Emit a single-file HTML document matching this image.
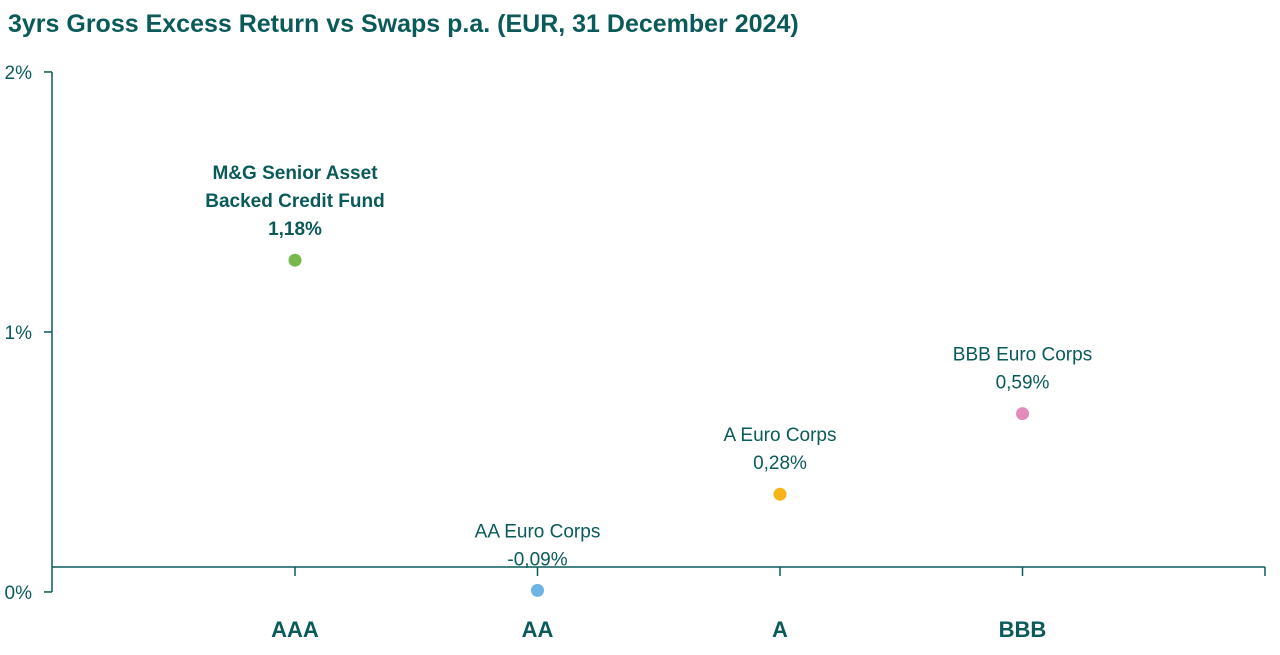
<!DOCTYPE html>
<html><head><meta charset="utf-8"><style>
body{margin:0;background:#fff;width:1280px;height:650px;overflow:hidden;font-family:"Liberation Sans",sans-serif}
</style></head><body>
<svg width="1280" height="650" xmlns="http://www.w3.org/2000/svg" id="c">
<text x="8" y="32" font-size="25" font-weight="bold" fill="#0b5a5a">3yrs Gross Excess Return vs Swaps p.a. (EUR, 31 December 2024)</text>
</svg>
<script>
const categories=["AAA","AA","A","BBB"];
const values=[1.18,-0.09,0.28,0.59];
const names=[["M&G Senior Asset","Backed Credit Fund"],["AA Euro Corps"],["A Euro Corps"],["BBB Euro Corps"]];
const valueLabels=["1,18%","-0,09%","0,28%","0,59%"];
const colors=["#77b94f","#6db3e6","#f6b417","#e28bbb"];
const bold=[true,false,false,false];
const tickLabels=["0%","1%","2%"];
const tickValues=[-0.096,0.904,1.904];
const svg=document.getElementById('c');const NS="http://www.w3.org/2000/svg";
const teal="#0b5a5a";
const y=v=>567-v*260;
const x=i=>295+i*242.5;
function mk(t,a,p){const e=document.createElementNS(NS,t);for(const k in a)e.setAttribute(k,a[k]);(p||svg).appendChild(e);return e;}
const ya=mk('line',{x1:52,y1:72,x2:52,y2:592,stroke:teal,'stroke-width':1.5});


const xa=mk('line',{x1:52,y1:567,x2:1265,y2:567,stroke:teal,'stroke-width':1.5});


tickValues.forEach((v,i)=>{
 const t=mk('line',{x1:44,y1:y(v),x2:52,y2:y(v),stroke:teal,'stroke-width':1.5});
 
 
 const l=mk('text',{x:32,y:y(v)+7,'font-size':19,fill:teal,'text-anchor':'end'});l.textContent=tickLabels[i];
 
 
});
for(let i=0;i<=4;i++){const t=mk('line',{x1:x(i),y1:567,x2:x(i),y2:576,stroke:teal,'stroke-width':1.5});
 
 }
categories.forEach((c,i)=>{
 const l=mk('text',{x:x(i),y:637,'font-size':22,'font-weight':'bold',fill:teal,'text-anchor':'middle'});l.textContent=c;
 
 
 const py=y(values[i]);
 const p=mk('circle',{cx:x(i),cy:py,r:6.5,fill:colors[i]});
 
 
 const lines=names[i].concat([valueLabels[i]]);
 lines.forEach((s,j)=>{
  const t=mk('text',{x:x(i),y:py-25-(lines.length-1-j)*28,'font-size':19,'font-weight':bold[i]?'bold':'normal',fill:teal,'text-anchor':'middle'});t.textContent=s;
  
  
 });
});
</script>
</body></html>
